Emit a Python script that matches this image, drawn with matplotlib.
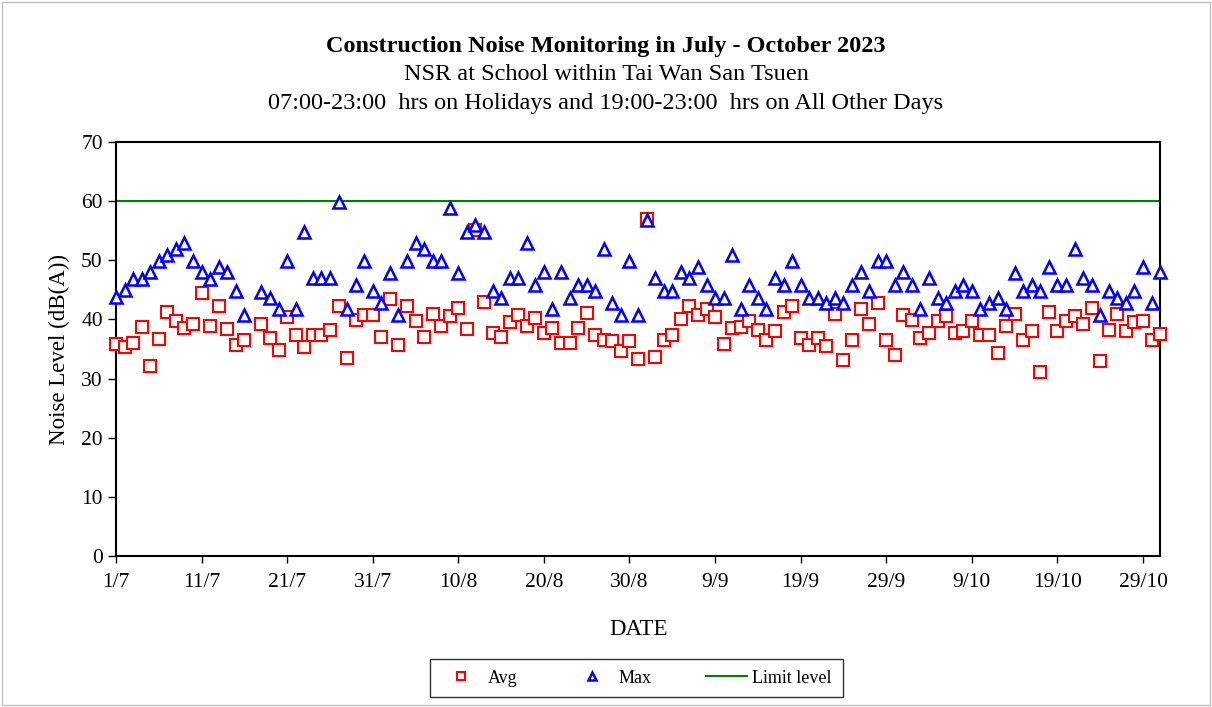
import numpy as np
import matplotlib
matplotlib.use("Agg")
import matplotlib.pyplot as plt
from matplotlib.patches import Rectangle

plt.rcParams['font.family'] = ['Liberation Serif', 'DejaVu Serif']

# day index counted from 1 July 2023 (0 = 1/7, 122 = 31/10); day 16 has no reading
days = np.arange(0, 123)

avg_vals = [
    35.8, 35.4, 36.0, 38.7, 32.2, 36.7, 41.2, 39.7, 38.6, 39.2,
    44.4, 38.9, 42.2, 38.3, 35.6, 36.5, np.nan, 39.3, 36.9, 34.8,
    40.4, 37.4, 35.4, 37.4, 37.4, 38.2, 42.2, 33.5, 39.9, 40.8,
    40.8, 37.0, 43.4, 35.7, 42.3, 39.7, 37.0, 41.0, 38.9, 40.5,
    41.9, 38.4, 55.1, 43.0, 37.7, 37.1, 39.5, 40.8, 38.9, 40.2,
    37.7, 38.5, 36.0, 36.1, 38.5, 41.1, 37.4, 36.5, 36.4, 34.7,
    36.4, 33.3, 57.0, 33.7, 36.6, 37.4, 40.0, 42.2, 40.8, 41.7,
    40.4, 35.8, 38.5, 38.8, 39.7, 38.2, 36.5, 38.0, 41.3, 42.3,
    36.8, 35.7, 36.8, 35.5, 41.0, 33.1, 36.5, 41.7, 39.2, 42.8,
    36.6, 34.0, 40.8, 39.9, 36.9, 37.7, 39.7, 40.6, 37.7, 38.0,
    39.7, 37.3, 37.4, 34.3, 38.9, 40.9, 36.6, 38.1, 31.1, 41.3,
    38.1, 39.8, 40.6, 39.2, 41.9, 33.0, 38.2, 41.0, 38.1, 39.6,
    39.8, 36.5, 37.5,
]

max_vals = [
    43.8, 44.9, 46.8, 46.8, 48.0, 49.9, 50.9, 51.9, 53.0, 49.9,
    48.0, 46.8, 48.9, 48.0, 44.8, 40.8, np.nan, 44.7, 43.7, 41.8,
    49.9, 41.8, 54.8, 47.0, 47.0, 47.0, 59.9, 41.8, 45.9, 49.9,
    44.8, 42.7, 47.9, 40.8, 49.9, 53.0, 51.9, 49.9, 49.9, 58.9,
    47.9, 54.8, 56.0, 54.8, 44.8, 43.7, 47.0, 47.0, 52.9, 45.9,
    48.0, 41.8, 48.0, 43.7, 45.9, 45.9, 44.8, 51.9, 42.7, 40.8,
    49.9, 40.8, 56.9, 47.0, 44.8, 44.8, 48.0, 47.0, 48.9, 45.9,
    43.7, 43.7, 50.9, 41.8, 45.9, 43.7, 41.8, 47.0, 45.9, 49.9,
    45.9, 43.7, 43.7, 42.7, 43.7, 42.7, 45.9, 48.0, 44.8, 49.9,
    49.9, 45.9, 48.0, 45.9, 41.8, 47.0, 43.7, 42.7, 44.8, 45.9,
    44.8, 41.8, 42.7, 43.7, 41.8, 47.9, 44.8, 45.9, 44.8, 48.9,
    45.9, 45.9, 51.9, 47.0, 45.9, 40.8, 44.8, 43.7, 42.7, 44.8,
    48.9, 42.7, 48.0,
]

limit_level = 60
tick_days = [0, 10, 20, 30, 40, 50, 60, 70, 80, 90, 100, 110, 120]
tick_labels = ['1/7', '11/7', '21/7', '31/7', '10/8', '20/8', '30/8',
               '9/9', '19/9', '29/9', '9/10', '19/10', '29/10']

fig = plt.figure(figsize=(12.12, 7.07), dpi=100)
ax = fig.add_axes([0.0957, 0.2136, 0.8615, 0.5855])

ax.plot(days, avg_vals, linestyle='none', marker='s', markersize=8.5,
        markerfacecolor='white', markeredgecolor='#ff0000', markeredgewidth=1.5,
        label='Avg', clip_on=False, zorder=3)
ax.plot(days, max_vals, linestyle='none', marker='^', markersize=9,
        markerfacecolor='white', markeredgecolor='#0000ff', markeredgewidth=1.8,
        label='Max', clip_on=False, zorder=4)
ax.axhline(limit_level, color='#008000', linewidth=1.5, label='Limit level', zorder=2)

ax.set_xlim(0, 122)
ax.set_ylim(0, 70)
ax.set_yticks(np.arange(0, 71, 10))
ax.set_xticks(tick_days)
ax.set_xticklabels(tick_labels)
ax.tick_params(axis='both', direction='out', length=6, width=1, labelsize=15.5, colors='black')
ax.tick_params(axis='x', length=5, pad=7)
for sp in ax.spines.values():
    sp.set_linewidth(1.5)

ax.set_xlabel('DATE', fontsize=16.5, labelpad=20)
ax.set_ylabel('Noise Level (dB(A))', fontsize=16.5, labelpad=8)

fig.text(0.5, 0.934, 'Construction Noise Monitoring in July - October 2023',
         ha='center', va='center', fontsize=17.5, fontweight='bold')
fig.text(0.5, 0.895, 'NSR at School within Tai Wan San Tsuen',
         ha='center', va='center', fontsize=17.5)
fig.text(0.5, 0.854, '07:00-23:00  hrs on Holidays and 19:00-23:00  hrs on All Other Days',
         ha='center', va='center', fontsize=17.5)

leg = fig.legend(loc='center', bbox_to_anchor=(0.525, 0.041), ncol=3, fontsize=13,
                 frameon=True, fancybox=False, edgecolor='black', columnspacing=3.0,
                 handlelength=2.3, handletextpad=0.3, markerscale=0.7, borderpad=0.6)
leg.get_frame().set_linewidth(1)

fig.patches.append(Rectangle((0.002, 0.003), 0.996, 0.994, transform=fig.transFigure,
                             fill=False, edgecolor='#bfbfbf', linewidth=1))

fig.savefig('out.png', dpi=100)
